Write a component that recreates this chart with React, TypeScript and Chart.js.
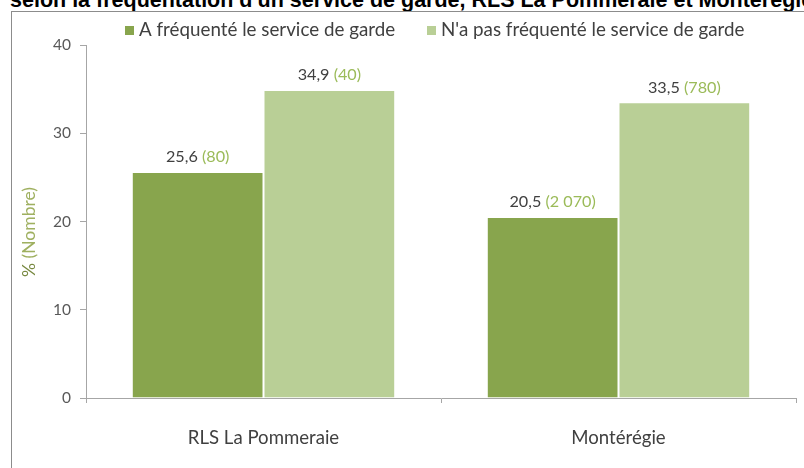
import React, { useEffect, useRef } from "react";
import { Chart, registerables } from "chart.js";

Chart.register(...registerables);

const categories = ["RLS La Pommeraie", "Montérégie"];
const seriesNames = ["A fréquenté le service de garde", "N'a pas fréquenté le service de garde"];
const attendedPct = [25.6, 20.5];
const notAttendedPct = [34.9, 33.5];
const attendedCount = ["80", "2 070"];
const notAttendedCount = ["40", "780"];
const yTicks = [0, 10, 20, 30, 40];
const titleText = "selon la fréquentation d'un service de garde, RLS La Pommeraie et Montérégie";

const DARK = "#88a54d";
const LIGHT = "#b9cf96";
const FONT = "Lato, 'Open Sans', sans-serif";

const labelPlugin = {
  id: "customLabels",
  afterDraw(chart: any) {
    const ctx = chart.ctx;
    ctx.save();
    // data labels
    const counts = [attendedCount, notAttendedCount];
    chart.data.datasets.forEach((ds: any, di: number) => {
      const meta = chart.getDatasetMeta(di);
      meta.data.forEach((bar: any, i: number) => {
        const v = (ds.data[i] as number).toFixed(1).replace(".", ",");
        const c = "(" + counts[di][i] + ")";
        ctx.font = "16.2px " + FONT;
        const w1 = ctx.measureText(v + " ").width;
        const w2 = ctx.measureText(c).width;
        const x0 = bar.x - (w1 + w2) / 2;
        const y = bar.y - 15;
        ctx.textBaseline = "middle";
        ctx.textAlign = "left";
        ctx.fillStyle = "#404040";
        ctx.fillText(v + " ", x0, y);
        ctx.fillStyle = "#9bbb59";
        ctx.fillText(c, x0 + w1, y);
      });
    });
    // legend
    ctx.font = "18.8px " + FONT;
    ctx.textBaseline = "middle";
    ctx.textAlign = "left";
    const items = [
      { x: 125, color: DARK, text: seriesNames[0] },
      { x: 427, color: LIGHT, text: seriesNames[1] },
    ];
    items.forEach((it) => {
      ctx.fillStyle = it.color;
      ctx.fillRect(it.x, 26, 9, 9);
      ctx.fillStyle = "#404040";
      ctx.fillText(it.text, it.x + 14, 30);
    });
    // y-axis title
    ctx.translate(29, 232);
    ctx.rotate(-Math.PI / 2);
    ctx.font = "17.5px " + FONT;
    const p1 = "% ";
    const p2 = "(Nombre)";
    const tw = ctx.measureText(p1 + p2).width;
    const wp = ctx.measureText(p1).width;
    ctx.textAlign = "left";
    ctx.fillStyle = "#77883f";
    ctx.fillText(p1, -tw / 2, 0);
    ctx.fillStyle = "#9fb060";
    ctx.fillText(p2, -tw / 2 + wp, 0);
    ctx.restore();
  },
};

export default function App() {
  const ref = useRef<HTMLCanvasElement>(null);
  useEffect(() => {
    if (!ref.current) return;
    const chart = new Chart(ref.current, {
      type: "bar",
      data: {
        labels: categories,
        datasets: [
          {
            label: seriesNames[0],
            data: attendedPct,
            backgroundColor: DARK,
            borderColor: "rgba(255,255,255,0.85)",
            borderWidth: 1,
            categoryPercentage: 0.742,
            barPercentage: 1,
          },
          {
            label: seriesNames[1],
            data: notAttendedPct,
            backgroundColor: LIGHT,
            borderColor: "rgba(255,255,255,0.85)",
            borderWidth: 1,
            categoryPercentage: 0.742,
            barPercentage: 1,
          },
        ],
      },
      options: {
        animation: false,
        responsive: false,
        maintainAspectRatio: false,
        layout: { padding: { left: 0, right: 8, top: 45, bottom: 0 } },
        plugins: { legend: { display: false }, title: { display: false }, tooltip: { enabled: false } },
        scales: {
          x: {
            afterFit: (s: any) => { s.height = 70; },
            grid: { drawOnChartArea: false, tickLength: 5, color: "#a6a6a6", offset: true },
            border: { color: "#a6a6a6" },
            ticks: { color: "#404040", font: { family: FONT, size: 18.6 }, padding: 24 },
          },
          y: {
            min: 0,
            max: 40,
            afterFit: (s: any) => { s.width = 86; },
            afterBuildTicks: (s: any) => { s.ticks = yTicks.map((v) => ({ value: v })); },
            grid: { drawOnChartArea: false, tickLength: 6, color: "#a6a6a6" },
            border: { color: "#a6a6a6" },
            ticks: { color: "#595959", font: { family: FONT, size: 15.5 }, padding: 9 },
          },
        },
      },
      plugins: [labelPlugin],
    });
    return () => chart.destroy();
  }, []);

  return (
    <div style={{ position: "fixed", left: 0, top: 0, width: 804, height: 468, overflow: "hidden", background: "#fff" }}>
      <div
        style={{
          position: "absolute",
          left: 10,
          top: -12,
          whiteSpace: "nowrap",
          font: "bold 21.5px 'Liberation Sans', Arial, sans-serif",
          lineHeight: "24px",
          color: "#000",
        }}
      >
        {titleText}
      </div>
      <div
        style={{
          position: "absolute",
          left: 11,
          top: 11,
          width: 900,
          height: 600,
          borderLeft: "1px solid #8c8c8c",
          borderTop: "1px solid #8c8c8c",
        }}
      />
      <canvas ref={ref} width={804} height={468} style={{ position: "absolute", left: 0, top: 0, width: 804, height: 468 }} />
    </div>
  );
}
